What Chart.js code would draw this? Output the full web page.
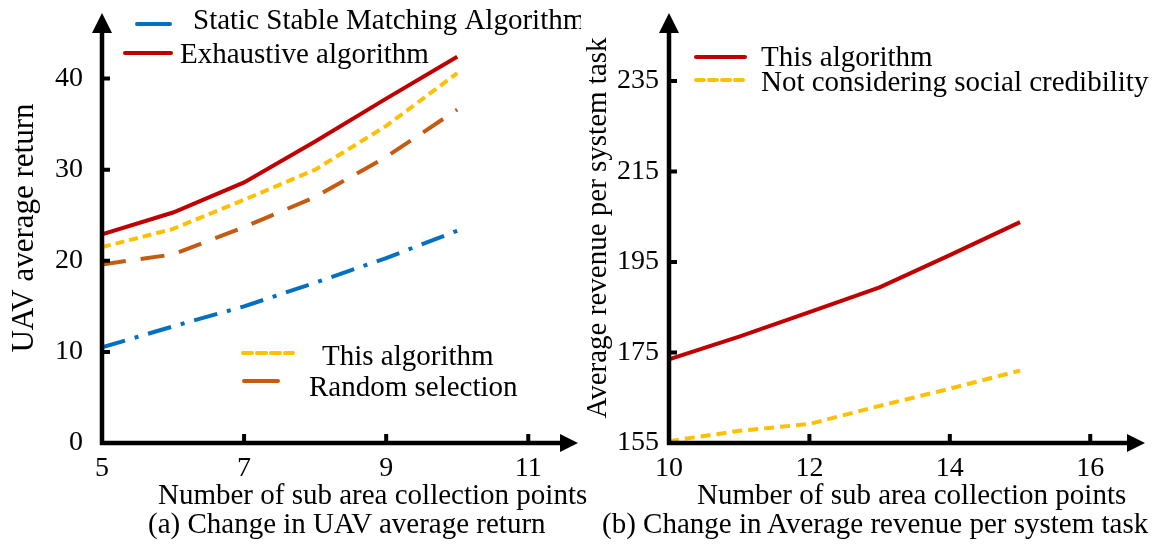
<!DOCTYPE html>
<html>
<head>
<meta charset="utf-8">
<script src="https://cdn.jsdelivr.net/npm/chart.js@4.4.1/dist/chart.umd.min.js"></script>
<style>
  body { margin: 0; background: #fff; }
  .wrap { position: absolute; top: 0; width: 581px; height: 547px; }
  .txt { position: absolute; font: 29px/29px 'Liberation Serif', 'Times New Roman', serif; color: #000; white-space: nowrap; }
</style>
</head>
<body>
<div class="wrap" style="left:0"><canvas id="left" width="581" height="547"></canvas></div>
<div class="wrap" style="left:581px"><canvas id="right" width="581" height="547"></canvas></div>
<div class="txt" style="left:158px; top:480px">Number of sub area collection points</div>
<div class="txt" style="left:148px; top:509px">(a) Change in UAV average return</div>
<div class="txt" style="left:697px; top:480px">Number of sub area collection points</div>
<div class="txt" style="left:602px; top:509px">(b) Change in Average revenue per system task</div>
<script>
// (a) UAV average return
const subAreaPointsA = [5, 6, 7, 8, 9, 10];
const exhaustive   = [22.9, 25.3, 28.6, 33.1, 37.8, 42.4];
const thisAlgoA    = [21.5, 23.5, 26.7, 30.0, 34.8, 40.6];
const randomSel    = [19.6, 20.7, 23.7, 27.0, 31.4, 36.6];
const staticStable = [10.5, 12.8, 15.0, 17.6, 20.3, 23.3];
const xTicksA = [5, 7, 9, 11];
const yTicksA = [0, 10, 20, 30, 40];

// (b) Average revenue per system task
const subAreaPointsB = [10, 11, 12, 13, 14, 15];
const thisAlgoB     = [173.5, 178.5, 183.9, 189.4, 196.5, 203.8];
const noCredibility = [155.4, 157.7, 159.2, 163.2, 167.0, 171.0];
const xTicksB = [10, 12, 14, 16];
const yTicksB = [155, 175, 195, 215, 235];

const FONT = "'Liberation Serif', 'Times New Roman', serif";
const RED = '#C00000', YELLOW = '#FFC000', ORANGE = '#C55A11', BLUE = '#0070C0';

Chart.defaults.font.family = FONT;
Chart.defaults.color = '#000';

const pts = (xs, ys) => xs.map((x, i) => ({ x: x, y: ys[i] }));

// black axes with arrow heads and short inner ticks
const axesArrows = {
  id: 'axesArrows',
  afterDatasetsDraw(chart) {
    const { ctx, chartArea: a, scales } = chart;
    ctx.save();
    ctx.strokeStyle = '#000';
    ctx.fillStyle = '#000';
    ctx.lineWidth = 4.5;
    ctx.setLineDash([]);
    ctx.beginPath();
    ctx.moveTo(a.left, a.bottom + 2);
    ctx.lineTo(a.left, a.top + 16);
    ctx.moveTo(a.left - 2, a.bottom);
    ctx.lineTo(a.right - 14, a.bottom);
    ctx.stroke();
    ctx.beginPath();
    ctx.moveTo(a.left, a.top);
    ctx.lineTo(a.left - 10, a.top + 20);
    ctx.lineTo(a.left + 10, a.top + 20);
    ctx.closePath();
    ctx.fill();
    ctx.beginPath();
    ctx.moveTo(a.right, a.bottom);
    ctx.lineTo(a.right - 18, a.bottom - 9);
    ctx.lineTo(a.right - 18, a.bottom + 9);
    ctx.closePath();
    ctx.fill();
    ctx.lineWidth = 4;
    ctx.beginPath();
    scales.y.ticks.forEach(t => {
      if (t.value === scales.y.min) return;
      const y = scales.y.getPixelForValue(t.value);
      ctx.moveTo(a.left, y);
      ctx.lineTo(a.left + 8, y);
    });
    scales.x.ticks.forEach(t => {
      if (t.value === scales.x.min) return;
      const x = scales.x.getPixelForValue(t.value);
      ctx.moveTo(x, a.bottom);
      ctx.lineTo(x, a.bottom - 9);
    });
    ctx.stroke();
    ctx.restore();
  }
};

// legend entries placed freely inside the plot
const inlineLegend = {
  id: 'inlineLegend',
  afterDraw(chart, args, opts) {
    const ctx = chart.ctx;
    ctx.save();
    ctx.font = opts.font;
    ctx.textBaseline = 'middle';
    ctx.fillStyle = '#000';
    opts.items.forEach(it => {
      const ds = chart.data.datasets[it.index];
      ctx.strokeStyle = ds.borderColor;
      ctx.lineWidth = ds.borderWidth;
      ctx.lineCap = 'round';
      ctx.setLineDash(it.dash || ds.borderDash || []);
      ctx.beginPath();
      ctx.moveTo(it.x1, it.y);
      ctx.lineTo(it.x2, it.y);
      ctx.stroke();
      ctx.fillText(ds.label, it.tx, it.ty);
    });
    ctx.restore();
  }
};

function makeChart(id, c) {
  return new Chart(document.getElementById(id), {
    type: 'line',
    data: { datasets: c.datasets },
    plugins: [axesArrows, inlineLegend],
    options: {
      responsive: false,
      animation: false,
      devicePixelRatio: 1,
      layout: { padding: { top: 13, right: c.padRight, left: 0, bottom: 38 } },
      elements: { point: { radius: 0 }, line: { tension: 0, borderWidth: 4, borderCapStyle: 'butt' } },
      scales: {
        x: {
          type: 'linear', min: c.xMin, max: c.xMax,
          grid: { display: false, drawTicks: false },
          border: { display: false },
          ticks: { font: { size: 28 }, padding: 9, maxRotation: 0, autoSkip: false },
          afterBuildTicks: s => { s.ticks = c.xTicks.map(v => ({ value: v })); },
          afterFit: s => { s.height = 66; s.paddingLeft = 0; s.paddingRight = 0; }
        },
        y: {
          min: c.yMin, max: c.yMax,
          grid: { display: false, drawTicks: false },
          border: { display: false },
          ticks: { font: { size: 28 }, padding: c.yTickPad },
          afterBuildTicks: s => { s.ticks = c.yTicks.map(v => ({ value: v })); },
          afterFit: s => { s.width = c.yWidth; s.paddingTop = 0; s.paddingBottom = 0; },
          title: { display: true, text: c.yTitle, font: { size: c.yTitleSize, lineHeight: 1.2 },
                   padding: { top: c.yTitlePad, bottom: 0 } }
        }
      },
      plugins: {
        legend: { display: false },
        tooltip: { enabled: false },
        inlineLegend: { font: "29px " + FONT, items: c.legend }
      }
    }
  });
}

makeChart('left', {
  datasets: [
    { label: 'Exhaustive algorithm', data: pts(subAreaPointsA, exhaustive), borderColor: RED, borderWidth: 4 },
    { label: 'This algorithm', data: pts(subAreaPointsA, thisAlgoA), borderColor: YELLOW, borderWidth: 4, borderDash: [9, 5] },
    { label: 'Random selection', data: pts(subAreaPointsA, randomSel), borderColor: ORANGE, borderWidth: 4, borderDash: [24, 15] },
    { label: 'Static Stable Matching Algorithm', data: pts(subAreaPointsA, staticStable), borderColor: BLUE, borderWidth: 4, borderDash: [24, 10, 4, 10] }
  ],
  xMin: 5, xMax: 11.7, xTicks: xTicksA,
  yMin: 0, yMax: 47.2, yTicks: yTicksA, yWidth: 102, yTickPad: 19,
  yTitle: 'UAV average return', yTitleSize: 31, yTitlePad: 6, padRight: 3,
  legend: [
    { index: 3, x1: 137, x2: 170, y: 24, tx: 193, ty: 21, dash: [] },
    { index: 0, x1: 125, x2: 171, y: 53, tx: 180, ty: 55 },
    { index: 1, x1: 243, x2: 293, y: 353, tx: 322, ty: 357, dash: [9, 5] },
    { index: 2, x1: 244, x2: 278, y: 381, tx: 309, ty: 388, dash: [] }
  ]
});

makeChart('right', {
  datasets: [
    { label: 'This algorithm', data: pts(subAreaPointsB, thisAlgoB), borderColor: RED, borderWidth: 4 },
    { label: 'Not considering social credibility', data: pts(subAreaPointsB, noCredibility), borderColor: YELLOW, borderWidth: 4, borderDash: [10, 6] }
  ],
  xMin: 10, xMax: 16.78, xTicks: xTicksB,
  yMin: 155, yMax: 250, yTicks: yTicksB, yWidth: 88, yTickPad: 10,
  yTitle: 'Average revenue per system task', yTitleSize: 29, yTitlePad: 0, padRight: 17,
  legend: [
    { index: 0, x1: 115, x2: 164, y: 57, tx: 180, ty: 58 },
    { index: 1, x1: 115, x2: 164, y: 80, tx: 180, ty: 83, dash: [8, 5] }
  ]
});
</script>
</body>
</html>
